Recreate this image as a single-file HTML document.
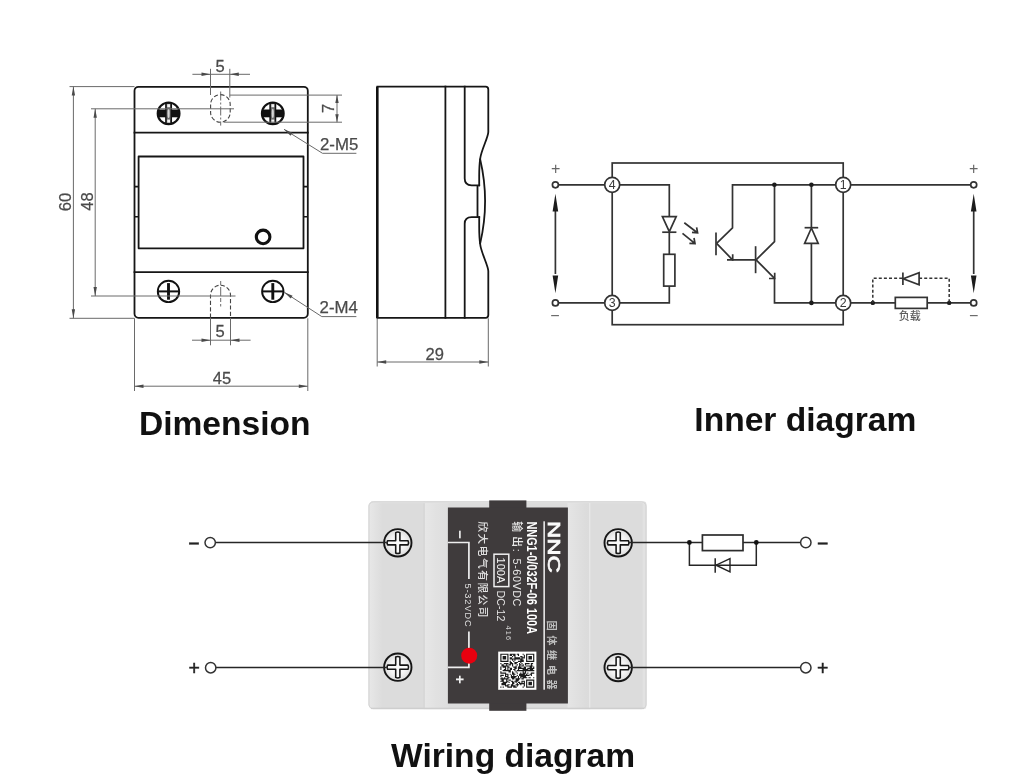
<!DOCTYPE html>
<html lang="en">
<head>
<meta charset="utf-8">
<title>Solid state relay – dimension, inner diagram, wiring diagram</title>
<style>
  html, body { margin: 0; padding: 0; background: #ffffff; }
  body { width: 1024px; height: 782px; overflow: hidden; position: relative;
         font-family: "Liberation Sans", "Noto Sans CJK SC", sans-serif; }
  svg { position: absolute; left: 0; top: 0; display: block; will-change: transform; }
  .ttl { font-family: "Liberation Sans", sans-serif; font-weight: bold; font-size: 33.6px; fill: #111; }
  .dim { font-family: "Liberation Sans", "DejaVu Sans", sans-serif; font-size: 16.8px; fill: #4a4a4a; stroke: #4a4a4a; stroke-width: 0.25px; }
  .o  { stroke: #161616; stroke-width: 1.8; fill: none; stroke-linecap: square; stroke-linejoin: round; }
  .o15 { stroke: #161616; stroke-width: 1.6; fill: none; stroke-linejoin: round; }
  .g  { stroke: #6a6a6a; stroke-width: 1; fill: none; }
  .gd { stroke: #444; stroke-width: 1.1; fill: none; stroke-dasharray: 4.2 2.2; }
  .ga { fill: #4a4a4a; stroke: none; }
  .c  { stroke: #333; stroke-width: 1.7; fill: none; stroke-linejoin: miter; }
  .cf { fill: #1c1c1c; stroke: none; }
  .cw { stroke: #333; stroke-width: 1.7; fill: #ffffff; stroke-linejoin: miter; }
  .cd { stroke: #333; stroke-width: 1.5; fill: none; stroke-dasharray: 3 2.1; }
  .pm { font-family: "Liberation Sans", sans-serif; font-size: 16px; fill: #666; }
  .tn { font-family: "Liberation Sans", sans-serif; font-size: 12.4px; fill: #3a3a3a; }
  .w  { stroke: #262626; stroke-width: 1.5; fill: none; }
  .sg { font-family: "Liberation Sans", sans-serif; font-size: 19.5px; fill: #222; stroke: #222; stroke-width: 0.45px; }
</style>
</head>
<body>
<svg width="1024" height="782" viewBox="0 0 1024 782">
<rect x="0" y="0" width="1024" height="782" fill="#ffffff"/>

<defs>
  <g id="tscrew">
    <circle cx="0" cy="0" r="10.9" fill="#fff" stroke="#111" stroke-width="2.1"/>
    <rect x="-10.7" y="-3.9" width="21.4" height="7.8" fill="#111"/>
    <rect x="-2.7" y="-10.3" width="5.4" height="20.6" fill="#6e6e6e" stroke="#111" stroke-width="1.5"/>
    <rect x="-1.4" y="-9.2" width="2.8" height="3" fill="#f2f2f2"/>
    <rect x="-1.4" y="6.2" width="2.8" height="3" fill="#f2f2f2"/>
    <rect x="-10.4" y="-2.8" width="7.6" height="5.6" fill="#111"/>
    <rect x="2.8" y="-2.8" width="7.6" height="5.6" fill="#111"/>
    <ellipse cx="0" cy="0" rx="1.05" ry="4.6" fill="#d6d6d6"/>
  </g>
  <g id="bscrew">
    <circle cx="0" cy="0" r="10.7" fill="#fff" stroke="#111" stroke-width="1.9"/>
    <path d="M-10.7 0H10.7" stroke="#111" stroke-width="2" fill="none"/>
    <path d="M0 -8.3V8.3" stroke="#111" stroke-width="2.9" fill="none"/>
  </g>
</defs>
<!-- ====================== DIMENSION (front view) ====================== -->
<g id="front">
  <!-- outer body -->
  <rect class="o" x="134.5" y="86.8" width="173.3" height="231" rx="4" ry="4"/>
  <line class="o" x1="134.5" y1="132.6" x2="307.8" y2="132.6"/>
  <line class="o" x1="134.5" y1="272.1" x2="307.8" y2="272.1"/>
  <!-- inner window -->
  <rect class="o" x="138.6" y="156.5" width="164.9" height="91.8"/>
  <!-- side ticks -->
  <path class="o15" d="M134.5 186.6H138.6M134.5 216.7H138.6M303.5 186.6H307.8M303.5 216.7H307.8"/>
  <!-- led ring -->
  <circle cx="263.1" cy="236.9" r="6.8" fill="none" stroke="#111" stroke-width="3.1"/>

  <!-- top screws (phillips, dark) -->
  <use href="#tscrew" x="168.6" y="113.4"/>
  <use href="#tscrew" x="272.8" y="113.4"/>
  <!-- bottom screws (circle + plus) -->
  <use href="#bscrew" x="168.5" y="291.4"/>
  <use href="#bscrew" x="272.8" y="291.4"/>

  <!-- top slot (dashed) -->
  <rect class="gd" x="210.6" y="94.6" width="19.6" height="27.6" rx="9.8" ry="9.8"/>
  <line class="g" x1="220.7" y1="91.5" x2="220.7" y2="125.6" stroke-dasharray="9 2 2 2"/>
  <!-- bottom slot (dashed) -->
  <path class="gd" d="M210.5 317.8V295.2A10 10 0 0 1 230.5 295.2V317.8"/>
  <line class="g" x1="220.7" y1="281" x2="220.7" y2="306.5" stroke-dasharray="4 2 9 2"/>
</g>

<!-- ====================== DIMENSION annotations ====================== -->
<g id="dims">
  <!-- 60 -->
  <path class="g" d="M69.5 86.6H134.5M69.5 318.3H134.5M73.4 86.6V318.3"/>
  <path class="ga" d="M73.4 86.6l-1.7 9h3.4zM73.4 318.3l-1.7 -9h3.4z"/>
  <text class="dim" transform="translate(71 202) rotate(-90) scale(.985 1)" text-anchor="middle">60</text>
  <!-- 48 -->
  <path class="g" d="M91 108.8H234M91 296H235.5M95.2 108.8V296"/>
  <path class="ga" d="M95.2 108.8l-1.7 9h3.4zM95.2 296l-1.7 -9h3.4z"/>
  <text class="dim" transform="translate(93 201.5) rotate(-90) scale(.985 1)" text-anchor="middle">48</text>
  <!-- 5 top -->
  <path class="g" d="M210.5 68.8V95M229.8 68.8V97.5M192.4 74.3H250"/>
  <path class="ga" d="M210.5 74.3l-9 -1.7v3.4zM229.8 74.3l9 -1.7v3.4z"/>
  <text class="dim" transform="translate(220 71.9) scale(.985 1)" text-anchor="middle">5</text>
  <!-- 7 -->
  <path class="g" d="M229.8 95.1H342M224 122.2H342M337 95.1V122.2"/>
  <path class="ga" d="M337 95.1l-1.7 8h3.4zM337 122.2l-1.7 -8h3.4z"/>
  <text class="dim" transform="translate(333.7 108.5) rotate(-90) scale(.985 1)" text-anchor="middle">7</text>
  <!-- 2-M5 leader -->
  <path class="g" d="M284 129.3L322.5 153.3H356.4"/>
  <path class="ga" d="M284 129.3l8.4 3.4l-1.9 3z"/>
  <text class="dim" x="320" y="150.2">2-M5</text>
  <!-- 2-M4 leader -->
  <path class="g" d="M284.2 292.2L321.8 316.6H356.4"/>
  <path class="ga" d="M284.2 292.2l8.4 3.5l-1.9 2.9z"/>
  <text class="dim" x="319.6" y="312.8">2-M4</text>
  <!-- 5 bottom -->
  <path class="g" d="M210.5 317.8V345.3M230.5 317.8V345.3M192 340.2H250.6"/>
  <path class="ga" d="M210.5 340.2l-9 -1.7v3.4zM230.5 340.2l9 -1.7v3.4z"/>
  <text class="dim" transform="translate(220.2 337.3) scale(.985 1)" text-anchor="middle">5</text>
  <!-- 45 -->
  <path class="g" d="M134.5 318.3V391M307.8 318.3V391M134.5 386.2H307.8"/>
  <path class="ga" d="M134.5 386.2l9 -1.7v3.4zM307.8 386.2l-9 -1.7v3.4z"/>
  <text class="dim" transform="translate(221.9 383.7) scale(.985 1)" text-anchor="middle">45</text>
  <!-- 29 -->
  <path class="g" d="M377.2 318.3V366.5M488.3 318.3V366.5M377.2 362H488.3"/>
  <path class="ga" d="M377.2 362l9 -1.7v3.4zM488.3 362l-9 -1.7v3.4z"/>
  <text class="dim" transform="translate(434.8 359.5) scale(.985 1)" text-anchor="middle">29</text>
</g>

<!-- ====================== SIDE VIEW ====================== -->
<g id="side">
  <!-- left thick edge -->
  <path d="M377.3 86.6V318" stroke="#111" stroke-width="2.6" fill="none"/>
  <!-- top / bottom edges with right profile -->
  <path class="o" d="M377.4 86.6H485.6Q488.3 86.6 488.3 89.4V132
     C488.3 137 481.4 150 480.3 158C479.4 164 479.2 170 479.2 176V185.3"/>
  <path class="o" d="M377.4 317.8H485.6Q488.3 317.8 488.3 315V271
     C488.3 266 481.4 253 480.3 245C479.4 239 479.2 233 479.2 227V217.1"/>
  <path class="o" d="M480.2 159.5Q490 201.2 480.2 243.2"/>
  <line class="o" x1="445.4" y1="86.6" x2="445.4" y2="317.8"/>
  <!-- grooved inner profile -->
  <path class="o" d="M464.7 86.6V178.6Q464.7 185.3 471.6 185.3H479.2
     M464.7 317.8V223.8Q464.7 217.1 471.6 217.1H479.2
     M477.5 185.6V216.8"/>
</g>

<!-- ====================== INNER DIAGRAM ====================== -->
<g id="inner">
  <!-- enclosure -->
  <rect class="c" x="612.2" y="163" width="231" height="161.7"/>
  <!-- input side wires -->
  <path class="c" d="M558 184.8H604.7M558 302.9H604.7"/>
  <path class="c" d="M619.7 184.8H669.3V216.4M669.3 232V254.5M669.3 286.1V302.9H619.7"/>
  <!-- LED -->
  <path class="cw" d="M662.4 216.6H676.2L669.3 231.6Z"/>
  <path class="c" d="M662.2 232.2H676.4"/>
  <!-- light arrows -->
  <path class="c" d="M684.3 222.8L697.4 232.7M692 232.4L697.6 232.9L696.6 227.3"/>
  <path class="c" d="M682.5 233.3L694.8 243.4M689.4 243.3L695 243.6L694 238"/>
  <!-- input resistor -->
  <rect class="cw" x="663.7" y="254.3" width="11.2" height="31.8"/>
  <!-- transistor 1 -->
  <path class="c" d="M716 232.6V255.2" stroke-width="2"/>
  <path class="c" d="M716.6 243.3L732.5 227.8V184.8H835.7"/>
  <path class="c" d="M716.6 243.3L732.5 259.8H755.6"/>
  <path class="c" d="M727 259.9H732.7V254.2"/>
  <!-- transistor 2 -->
  <path class="c" d="M755.6 246.2V273.2" stroke-width="2"/>
  <path class="c" d="M756.1 259.8L774.5 241.6V184.8"/>
  <path class="c" d="M756.1 259.8L774.5 278.4V302.9H835.7"/>
  <path class="c" d="M769 278.5H774.7V272.8"/>
  <!-- free-wheel diode -->
  <path class="c" d="M811.4 184.8V227.7M811.4 243.3V302.9"/>
  <path class="cw" d="M804.6 243.3H818.2L811.4 228Z"/>
  <path class="c" d="M804.6 227.7H818.2"/>
  <!-- junction dots -->
  <circle class="cf" cx="774.4" cy="184.8" r="2.3"/>
  <circle class="cf" cx="811.4" cy="184.8" r="2.3"/>
  <circle class="cf" cx="811.4" cy="302.9" r="2.3"/>
  <!-- terminal circles -->
  <circle class="cw" cx="612.2" cy="184.8" r="7.5"/>
  <circle class="cw" cx="612.2" cy="302.9" r="7.5"/>
  <circle class="cw" cx="843.2" cy="184.8" r="7.5"/>
  <circle class="cw" cx="843.2" cy="302.9" r="7.5"/>
  <text class="tn" x="612.2" y="189" text-anchor="middle">4</text>
  <text class="tn" x="612.2" y="307.2" text-anchor="middle">3</text>
  <text class="tn" x="843.2" y="189" text-anchor="middle">1</text>
  <text class="tn" x="843.2" y="307.2" text-anchor="middle">2</text>
  <!-- external terminals left -->
  <circle class="cw" cx="555.4" cy="184.8" r="3"/>
  <circle class="cw" cx="555.4" cy="302.9" r="3"/>
  <path class="c" d="M555.4 204V274"/>
  <path class="cf" d="M555.4 193.8L552.6 211.5H558.2ZM555.4 293.2L552.6 275.5H558.2Z"/>
  <text class="pm" x="555.6" y="173.6" text-anchor="middle">+</text>
  <text class="pm" x="555" y="320.5" text-anchor="middle">−</text>
  <!-- output side -->
  <path class="c" d="M850.7 184.8H970.5M850.7 302.9H895.3M927.2 302.9H970.5"/>
  <rect class="cw" x="895.3" y="297.4" width="31.9" height="11"/>
  <circle class="cf" cx="872.8" cy="302.9" r="2.2"/>
  <circle class="cf" cx="949.2" cy="302.9" r="2.2"/>
  <path class="cd" d="M872.8 302.9V278.3H902.9M919.1 278.3H949.2V302.9"/>
  <path class="c" d="M902.9 272.6V285"/>
  <path class="cw" d="M919.1 272.8V284.8L903.2 278.8Z"/>
  <text x="909.8" y="320.4" text-anchor="middle" style="font-family:'Liberation Sans','Noto Sans CJK SC',sans-serif;font-size:11px;font-weight:500;fill:#5a5a5a;">负载</text>
  <!-- external terminals right -->
  <circle class="cw" cx="973.7" cy="184.8" r="3"/>
  <circle class="cw" cx="973.7" cy="302.9" r="3"/>
  <path class="c" d="M973.7 204V274"/>
  <path class="cf" d="M973.7 193.8L970.9 211.5H976.5ZM973.7 293.2L970.9 275.5H976.5Z"/>
  <text class="pm" x="973.6" y="174.4" text-anchor="middle">+</text>
  <text class="pm" x="973.6" y="321.4" text-anchor="middle">−</text>
</g>

<!-- ====================== WIRING DIAGRAM ====================== -->
<defs>
  <radialGradient id="scr" cx="50%" cy="50%" r="50%">
    <stop offset="0" stop-color="#ffffff"/><stop offset="0.55" stop-color="#f4f4f4"/><stop offset="1" stop-color="#dcdcdc"/>
  </radialGradient>
  <linearGradient id="bodyL" x1="0" x2="1" y1="0" y2="0">
    <stop offset="0" stop-color="#e8e8e8"/><stop offset="1" stop-color="#dcdcdc"/>
  </linearGradient>
  <linearGradient id="bodyM" x1="0" x2="1" y1="0" y2="0">
    <stop offset="0" stop-color="#e7e7e7"/><stop offset="0.5" stop-color="#e1e1e1"/><stop offset="1" stop-color="#dedede"/>
  </linearGradient>
  <linearGradient id="bodyR" x1="0" x2="1" y1="0" y2="0">
    <stop offset="0" stop-color="#e5e5e5"/><stop offset="0.8" stop-color="#dcdcdc"/><stop offset="1" stop-color="#dbdbdb"/>
  </linearGradient>
  <g id="pscrew">
    <circle cx="0" cy="0" r="13.7" fill="url(#scr)" stroke="#161616" stroke-width="1.9"/>
    <path d="M-2.1 -10.2Q0 -11.3 2.1 -10.2V-2.1H10.2Q11.3 0 10.2 2.1H2.1V10.2Q0 11.3 -2.1 10.2V2.1H-10.2Q-11.3 0 -10.2 -2.1H-2.1Z"
          fill="#fafafa" stroke="#161616" stroke-width="1.55" stroke-linejoin="round"/>
  </g>
</defs>
<g id="wiring">
  <!-- relay body -->
  <rect x="368.6" y="501.5" width="277.8" height="207.6" rx="4.5" ry="4.5" fill="#dcdcdc"/>
  <rect x="368.6" y="501.5" width="14" height="207.6" rx="4.5" ry="4.5" fill="url(#bodyL)"/>
  <rect x="424.6" y="501.5" width="24" height="207.6" fill="url(#bodyM)"/>
  <rect x="567.6" y="501.5" width="22" height="207.6" fill="url(#bodyR)"/>
  <rect x="589" y="501.5" width="1.4" height="207.6" fill="#e7e7e7"/>
  <rect x="423.6" y="501.5" width="1" height="207.6" fill="#d2d2d2"/>
  <rect x="642.6" y="501.5" width="3.8" height="207.6" rx="3" fill="#e2e2e2"/>
  <rect x="371" y="501.5" width="273" height="1.6" fill="#e6e6e6"/>
  <rect x="371" y="707.7" width="273" height="1.4" fill="#cccccc"/>
  <rect x="369" y="501.9" width="277" height="206.8" rx="4.2" ry="4.2" fill="none" stroke="#d0d0d0" stroke-width="0.9"/>
  <!-- dark label -->
  <rect x="489.2" y="500.4" width="37.2" height="210.4" fill="#3f3b3c"/>
  <rect x="447.9" y="507.5" width="120" height="196" fill="#3f3b3c"/>

  <!-- label: logo + rule -->
  <text transform="translate(547.6 520.9) rotate(90)" textLength="52" lengthAdjust="spacingAndGlyphs"
        style="font-family:'Liberation Sans',sans-serif;font-weight:normal;font-size:16.6px;fill:#fbfbfb;stroke:#fbfbfb;stroke-width:0.7px;">NNC</text>
  <rect x="543.4" y="521.3" width="1.5" height="168.4" fill="#f2f2f2"/>
  <text transform="translate(547.5 620.6) rotate(90)" textLength="69" lengthAdjust="spacing"
        style="font-family:'Liberation Sans','Noto Sans CJK SC',sans-serif;font-weight:bold;font-size:10.2px;fill:#bdbdbd;">固体继电器</text>
  <!-- model -->
  <text transform="translate(526.8 521.4) rotate(90)" textLength="112.6" lengthAdjust="spacingAndGlyphs"
        style="font-family:'Liberation Sans',sans-serif;font-weight:bold;font-size:14px;fill:#ffffff;">NNG1-0/032F-06 100A</text>
  <!-- output -->
  <text transform="translate(512.6 521.2) rotate(90)"
        style="font-family:'Liberation Sans','Noto Sans CJK SC',sans-serif;font-weight:500;font-size:10.8px;fill:#e8e8e8;"><tspan x="0">输</tspan><tspan x="15">出</tspan><tspan x="27.6">:</tspan><tspan x="37.4" textLength="47.8" lengthAdjust="spacing">5-60VDC</tspan></text>
  <!-- 100A box + DC-12 -->
  <rect x="494" y="554.2" width="14.8" height="32.4" fill="none" stroke="#f0f0f0" stroke-width="1.5"/>
  <text transform="translate(497.4 557.6) rotate(90)" textLength="25.6" lengthAdjust="spacingAndGlyphs"
        style="font-family:'Liberation Sans',sans-serif;font-size:10.6px;fill:#f4f4f4;">100A</text>
  <text transform="translate(497.2 590.4) rotate(90)" textLength="31" lengthAdjust="spacing"
        style="font-family:'Liberation Sans',sans-serif;font-size:10.6px;fill:#e6e6e6;">DC-12</text>
  <text transform="translate(506.4 625.6) rotate(90)" textLength="14.6" lengthAdjust="spacing"
        style="font-family:'Liberation Sans',sans-serif;font-size:7.4px;fill:#d4d4d4;">416</text>
  <!-- company -->
  <text transform="translate(478.6 521.4) rotate(90)" textLength="96" lengthAdjust="spacing"
        style="font-family:'Liberation Sans','Noto Sans CJK SC',sans-serif;font-weight:500;font-size:10.6px;fill:#e0e0e0;">欣大电气有限公司</text>
  <!-- control bracket -->
  <path d="M447.9 542.5H468.9V579M468.9 631.6V667.3H447.9" fill="none" stroke="#eeeeee" stroke-width="1.7"/>
  <text transform="translate(464.9 583.4) rotate(90)" textLength="43.2" lengthAdjust="spacing"
        style="font-family:'Liberation Sans',sans-serif;font-size:9.2px;fill:#dedede;">5-32VDC</text>
  <text transform="translate(455.2 534.7) rotate(90)" text-anchor="middle" style="font-family:'Liberation Sans',sans-serif;font-weight:bold;font-size:15px;fill:#ececec;">−</text>
  <text transform="translate(455.3 679.3) rotate(90)" text-anchor="middle" style="font-family:'Liberation Sans',sans-serif;font-weight:bold;font-size:15px;fill:#f0f0f0;">+</text>
  <circle cx="469.2" cy="655.7" r="8" fill="#e8000f"/>
  <!-- QR -->
  <rect x="498.2" y="651.6" width="38.2" height="38.2" fill="#ffffff"/>
  <path fill="#1b1b1b" d="M500.30 653.70h8.21v1.17h-8.21zM509.68 653.70h5.86v1.17h-5.86zM516.71 653.70h2.34v1.17h-2.34zM522.58 653.70h1.17v1.17h-1.17zM526.09 653.70h8.21v1.17h-8.21zM500.30 654.87h1.17v1.17h-1.17zM507.33 654.87h1.17v1.17h-1.17zM509.68 654.87h2.34v1.17h-2.34zM513.20 654.87h2.34v1.17h-2.34zM517.89 654.87h1.17v1.17h-1.17zM523.75 654.87h1.17v1.17h-1.17zM526.09 654.87h1.17v1.17h-1.17zM533.13 654.87h1.17v1.17h-1.17zM500.30 656.04h1.17v1.17h-1.17zM502.64 656.04h3.52v1.17h-3.52zM507.33 656.04h1.17v1.17h-1.17zM512.02 656.04h1.17v1.17h-1.17zM514.37 656.04h1.17v1.17h-1.17zM520.23 656.04h2.34v1.17h-2.34zM523.75 656.04h1.17v1.17h-1.17zM526.09 656.04h1.17v1.17h-1.17zM528.44 656.04h3.52v1.17h-3.52zM533.13 656.04h1.17v1.17h-1.17zM500.30 657.22h1.17v1.17h-1.17zM502.64 657.22h3.52v1.17h-3.52zM507.33 657.22h1.17v1.17h-1.17zM509.68 657.22h2.34v1.17h-2.34zM514.37 657.22h5.86v1.17h-5.86zM521.40 657.22h3.52v1.17h-3.52zM526.09 657.22h1.17v1.17h-1.17zM528.44 657.22h3.52v1.17h-3.52zM533.13 657.22h1.17v1.17h-1.17zM500.30 658.39h1.17v1.17h-1.17zM502.64 658.39h3.52v1.17h-3.52zM507.33 658.39h1.17v1.17h-1.17zM509.68 658.39h12.90v1.17h-12.90zM526.09 658.39h1.17v1.17h-1.17zM528.44 658.39h3.52v1.17h-3.52zM533.13 658.39h1.17v1.17h-1.17zM500.30 659.56h1.17v1.17h-1.17zM507.33 659.56h1.17v1.17h-1.17zM512.02 659.56h1.17v1.17h-1.17zM514.37 659.56h1.17v1.17h-1.17zM520.23 659.56h3.52v1.17h-3.52zM526.09 659.56h1.17v1.17h-1.17zM533.13 659.56h1.17v1.17h-1.17zM500.30 660.73h8.21v1.17h-8.21zM509.68 660.73h1.17v1.17h-1.17zM513.20 660.73h1.17v1.17h-1.17zM517.89 660.73h5.86v1.17h-5.86zM526.09 660.73h8.21v1.17h-8.21zM509.68 661.91h2.34v1.17h-2.34zM514.37 661.91h3.52v1.17h-3.52zM520.23 661.91h1.17v1.17h-1.17zM500.30 663.08h1.17v1.17h-1.17zM503.82 663.08h4.69v1.17h-4.69zM509.68 663.08h3.52v1.17h-3.52zM514.37 663.08h2.34v1.17h-2.34zM519.06 663.08h1.17v1.17h-1.17zM521.40 663.08h1.17v1.17h-1.17zM524.92 663.08h4.69v1.17h-4.69zM530.78 663.08h2.34v1.17h-2.34zM501.47 664.25h2.34v1.17h-2.34zM506.16 664.25h1.17v1.17h-1.17zM508.51 664.25h2.34v1.17h-2.34zM512.02 664.25h1.17v1.17h-1.17zM516.71 664.25h1.17v1.17h-1.17zM519.06 664.25h2.34v1.17h-2.34zM522.58 664.25h1.17v1.17h-1.17zM524.92 664.25h1.17v1.17h-1.17zM530.78 664.25h1.17v1.17h-1.17zM501.47 665.42h7.03v1.17h-7.03zM512.02 665.42h1.17v1.17h-1.17zM515.54 665.42h1.17v1.17h-1.17zM519.06 665.42h1.17v1.17h-1.17zM521.40 665.42h2.34v1.17h-2.34zM526.09 665.42h7.03v1.17h-7.03zM500.30 666.60h1.17v1.17h-1.17zM502.64 666.60h3.52v1.17h-3.52zM507.33 666.60h2.34v1.17h-2.34zM513.20 666.60h3.52v1.17h-3.52zM517.89 666.60h3.52v1.17h-3.52zM523.75 666.60h2.34v1.17h-2.34zM529.61 666.60h2.34v1.17h-2.34zM533.13 666.60h1.17v1.17h-1.17zM500.30 667.77h1.17v1.17h-1.17zM504.99 667.77h1.17v1.17h-1.17zM507.33 667.77h1.17v1.17h-1.17zM509.68 667.77h2.34v1.17h-2.34zM514.37 667.77h2.34v1.17h-2.34zM517.89 667.77h8.21v1.17h-8.21zM527.27 667.77h7.03v1.17h-7.03zM500.30 668.94h1.17v1.17h-1.17zM503.82 668.94h2.34v1.17h-2.34zM507.33 668.94h1.17v1.17h-1.17zM509.68 668.94h2.34v1.17h-2.34zM513.20 668.94h2.34v1.17h-2.34zM517.89 668.94h1.17v1.17h-1.17zM522.58 668.94h5.86v1.17h-5.86zM529.61 668.94h3.52v1.17h-3.52zM502.64 670.11h8.21v1.17h-8.21zM514.37 670.11h1.17v1.17h-1.17zM516.71 670.11h17.59v1.17h-17.59zM500.30 671.29h1.17v1.17h-1.17zM508.51 671.29h2.34v1.17h-2.34zM512.02 671.29h1.17v1.17h-1.17zM515.54 671.29h1.17v1.17h-1.17zM522.58 671.29h1.17v1.17h-1.17zM524.92 671.29h1.17v1.17h-1.17zM500.30 672.46h5.86v1.17h-5.86zM512.02 672.46h2.34v1.17h-2.34zM516.71 672.46h1.17v1.17h-1.17zM520.23 672.46h1.17v1.17h-1.17zM522.58 672.46h3.52v1.17h-3.52zM527.27 672.46h1.17v1.17h-1.17zM530.78 672.46h3.52v1.17h-3.52zM504.99 673.63h3.52v1.17h-3.52zM509.68 673.63h1.17v1.17h-1.17zM512.02 673.63h3.52v1.17h-3.52zM519.06 673.63h5.86v1.17h-5.86zM526.09 673.63h1.17v1.17h-1.17zM529.61 673.63h2.34v1.17h-2.34zM500.30 674.80h3.52v1.17h-3.52zM504.99 674.80h1.17v1.17h-1.17zM507.33 674.80h1.17v1.17h-1.17zM510.85 674.80h1.17v1.17h-1.17zM513.20 674.80h1.17v1.17h-1.17zM516.71 674.80h1.17v1.17h-1.17zM519.06 674.80h10.55v1.17h-10.55zM530.78 674.80h1.17v1.17h-1.17zM500.30 675.98h1.17v1.17h-1.17zM504.99 675.98h3.52v1.17h-3.52zM510.85 675.98h5.86v1.17h-5.86zM517.89 675.98h1.17v1.17h-1.17zM520.23 675.98h5.86v1.17h-5.86zM501.47 677.15h1.17v1.17h-1.17zM503.82 677.15h1.17v1.17h-1.17zM507.33 677.15h2.34v1.17h-2.34zM510.85 677.15h4.69v1.17h-4.69zM517.89 677.15h1.17v1.17h-1.17zM520.23 677.15h1.17v1.17h-1.17zM522.58 677.15h4.69v1.17h-4.69zM528.44 677.15h2.34v1.17h-2.34zM533.13 677.15h1.17v1.17h-1.17zM500.30 678.32h8.21v1.17h-8.21zM512.02 678.32h2.34v1.17h-2.34zM515.54 678.32h4.69v1.17h-4.69zM521.40 678.32h2.34v1.17h-2.34zM501.47 679.49h2.34v1.17h-2.34zM506.16 679.49h1.17v1.17h-1.17zM508.51 679.49h2.34v1.17h-2.34zM515.54 679.49h3.52v1.17h-3.52zM526.09 679.49h8.21v1.17h-8.21zM500.30 680.67h3.52v1.17h-3.52zM506.16 680.67h2.34v1.17h-2.34zM510.85 680.67h2.34v1.17h-2.34zM514.37 680.67h3.52v1.17h-3.52zM521.40 680.67h3.52v1.17h-3.52zM526.09 680.67h1.17v1.17h-1.17zM533.13 680.67h1.17v1.17h-1.17zM502.64 681.84h4.69v1.17h-4.69zM508.51 681.84h1.17v1.17h-1.17zM512.02 681.84h2.34v1.17h-2.34zM515.54 681.84h1.17v1.17h-1.17zM517.89 681.84h2.34v1.17h-2.34zM521.40 681.84h1.17v1.17h-1.17zM523.75 681.84h1.17v1.17h-1.17zM526.09 681.84h1.17v1.17h-1.17zM528.44 681.84h3.52v1.17h-3.52zM533.13 681.84h1.17v1.17h-1.17zM501.47 683.01h4.69v1.17h-4.69zM512.02 683.01h2.34v1.17h-2.34zM516.71 683.01h1.17v1.17h-1.17zM519.06 683.01h5.86v1.17h-5.86zM526.09 683.01h1.17v1.17h-1.17zM528.44 683.01h3.52v1.17h-3.52zM533.13 683.01h1.17v1.17h-1.17zM501.47 684.18h4.69v1.17h-4.69zM507.33 684.18h2.34v1.17h-2.34zM510.85 684.18h2.34v1.17h-2.34zM515.54 684.18h3.52v1.17h-3.52zM520.23 684.18h1.17v1.17h-1.17zM523.75 684.18h1.17v1.17h-1.17zM526.09 684.18h1.17v1.17h-1.17zM528.44 684.18h3.52v1.17h-3.52zM533.13 684.18h1.17v1.17h-1.17zM504.99 685.36h3.52v1.17h-3.52zM510.85 685.36h4.69v1.17h-4.69zM516.71 685.36h1.17v1.17h-1.17zM523.75 685.36h1.17v1.17h-1.17zM526.09 685.36h1.17v1.17h-1.17zM533.13 685.36h1.17v1.17h-1.17zM500.30 686.53h1.17v1.17h-1.17zM502.64 686.53h1.17v1.17h-1.17zM507.33 686.53h4.69v1.17h-4.69zM513.20 686.53h3.52v1.17h-3.52zM522.58 686.53h1.17v1.17h-1.17zM526.09 686.53h8.21v1.17h-8.21z"/>

  <!-- screws -->
  <use href="#pscrew" x="397.8" y="542.8"/>
  <use href="#pscrew" x="397.8" y="667.2"/>
  <use href="#pscrew" x="618.2" y="542.8"/>
  <use href="#pscrew" x="618.2" y="667.6"/>
  <!-- wires left -->
  <path class="w" d="M215.6 542.4H386.8M216 667.5H386.8"/>
  <circle cx="210.2" cy="542.6" r="5.2" fill="#fff" stroke="#333" stroke-width="1.5"/>
  <circle cx="210.7" cy="667.7" r="5.2" fill="#fff" stroke="#333" stroke-width="1.5"/>
  <text class="sg" x="193.9" y="549.7" text-anchor="middle">−</text>
  <text class="sg" x="194.1" y="675.2" text-anchor="middle">+</text>
  <!-- wires right -->
  <path class="w" d="M629 542.5H702.4M743 542.5H800.4M629 667.5H800.4"/>
  <rect x="702.4" y="535" width="40.6" height="15.6" fill="#fff" stroke="#2c2c2c" stroke-width="1.7"/>
  <path class="w" d="M689.4 542.5V565.2H756.3V542.5"/>
  <path d="M730 558.6V571.9L716 565.2Z" fill="#fff" stroke="#222" stroke-width="1.4" stroke-linejoin="miter"/>
  <path class="w" d="M716 565.2H730M715.2 558.2V572.8"/>
  <circle cx="689.4" cy="542.5" r="2.4" fill="#111"/>
  <circle cx="756.3" cy="542.5" r="2.4" fill="#111"/>
  <circle cx="805.8" cy="542.5" r="5.2" fill="#fff" stroke="#333" stroke-width="1.5"/>
  <circle cx="805.8" cy="667.7" r="5.2" fill="#fff" stroke="#333" stroke-width="1.5"/>
  <text class="sg" x="822.6" y="549.7" text-anchor="middle">−</text>
  <text class="sg" x="822.7" y="675.2" text-anchor="middle">+</text>
</g>

<!-- ====================== TITLES ====================== -->
<text class="ttl" x="138.9" y="434.9">Dimension</text>
<text class="ttl" x="694.3" y="430.9">Inner diagram</text>
<text class="ttl" x="391" y="766.6">Wiring diagram</text>
</svg>
</body>
</html>
